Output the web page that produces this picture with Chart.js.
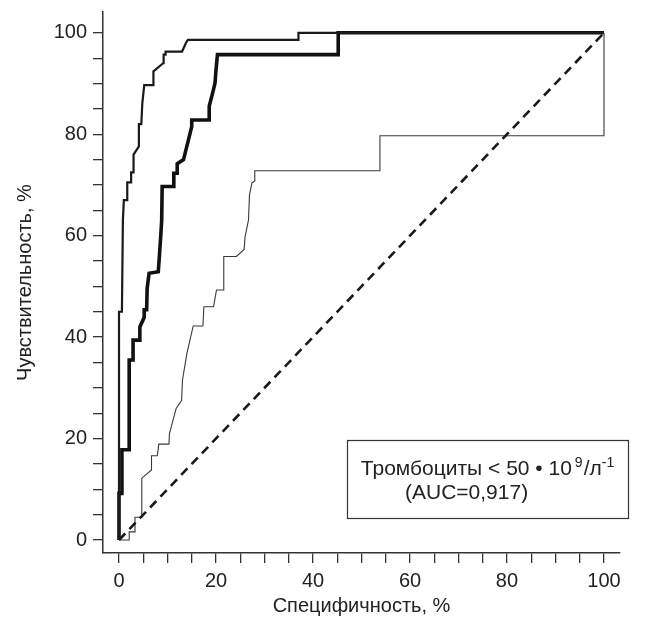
<!DOCTYPE html>
<html>
<head>
<meta charset="utf-8">
<script src="https://cdn.jsdelivr.net/npm/chart.js@4.4.1/dist/chart.umd.min.js"></script>
<style>
  html, body { margin: 0; padding: 0; background: #fff; }
</style>
</head>
<body>
<canvas id="rocChart" width="658" height="624"></canvas>
<script>
'use strict';

// ROC curves, [x, y] in %
const rocOuter = [[0,0],[0,45],[0.6,45],[0.8,63],[1.0,67],[1.7,67],[1.7,70.5],[2.5,70.5],[2.5,72.5],[3.0,72.5],
  [3.0,76],[4.1,77.6],[4.1,82],[4.6,82],[4.8,86],[5.2,89.7],[7.1,89.7],[7.1,92.4],[9.1,94],[9.2,95.7],
  [9.6,95.7],[9.6,96.3],[13.0,96.3],[13.8,98],[14.2,98.6],[37,98.6],[37,100],[100,100]];

const rocPlatelets = [[0,0],[0,9.2],[0.6,9.2],[0.6,17.8],[2.1,17.8],[2.1,35.5],[2.9,35.5],[2.9,39.4],[4.3,39.4],
  [4.3,42],[5.2,43.9],[5.2,45.4],[5.7,45.4],[5.8,49.6],[6.2,52.6],[8.1,52.9],[8.3,55.6],[8.6,59.8],[8.8,63],
  [8.9,69.7],[11.3,69.7],[11.3,72.3],[12.0,72.3],[12.0,74.2],[13.3,75],[15.0,81.5],[15.0,82.8],[18.6,82.8],
  [18.6,85.5],[19.4,88.5],[19.8,90.1],[20.0,92.7],[20.3,95.7],[45.2,95.7],[45.2,100],[100,100]];

const rocInner = [[0,0],[2.1,0],[2.1,1.6],[3.3,1.6],[3.3,4.5],[4.7,4.5],[4.7,12.2],[6.7,13.8],[6.7,16.6],[7.9,16.6],
  [8.2,18.9],[10.3,18.9],[10.4,21],[11.8,26],[12.9,27.5],[13.1,31.6],[14.0,36.8],[15.3,42.2],[17.3,42.2],
  [17.5,46],[19.5,46],[20.1,49.3],[21.6,49.3],[21.6,55.9],[24.2,55.9],[25.8,57.3],[26.0,59.8],[26.7,63.1],
  [26.9,68],[27.4,70.4],[28.0,70.8],[28.0,72.8],[53.8,72.8],[53.8,79.7],[100,79.7],[100,100]];

const chanceLine = [[0,0],[100,100]];

const tickValues = [0,5,10,15,20,25,30,35,40,45,50,55,60,65,70,75,80,85,90,95,100];
const labelledTicks = [0,20,40,60,80,100];

const xTitle = 'Специфичность, %';
const yTitle = 'Чувствительность, %';
// normal / superscript parts alternate
const boxLine1 = ['Тромбоциты < 50 \u2022 10', '9', '/л', '-1'];
const boxLine2 = '(AUC=0,917)';

const FONT = "'Liberation Sans', Arial, Helvetica, sans-serif";
const INK = '#222';

function toPoints(arr) {
    return arr.map(p => ({x: p[0], y: p[1]}));
}

const legendBox = {
    id: 'legendBox',
    afterDatasetsDraw(chart) {
        const ctx = chart.ctx;
        const bx = 347.5, by = 440.5, bw = 281, bh = 78;
        ctx.save();
        ctx.strokeStyle = '#333';
        ctx.lineWidth = 1.2;
        ctx.strokeRect(bx, by, bw, bh);

        ctx.fillStyle = INK;
        ctx.textBaseline = 'alphabetic';
        ctx.textAlign = 'left';
        const big = '21px ' + FONT;
        const small = '14px ' + FONT;

        let total = 0;
        boxLine1.forEach((part, i) => {
            ctx.font = i % 2 ? small : big;
            total += ctx.measureText(part).width + (i % 2 ? 1 : 0) + (i === 1 ? 3 : 0);
        });
        let x = bx + (bw - total) / 2;
        const base = 475;
        boxLine1.forEach((part, i) => {
            const sup = i % 2 === 1;
            if (i === 1) x += 3;
            ctx.font = sup ? small : big;
            ctx.fillText(part, x, sup ? base - 8 : base);
            x += ctx.measureText(part).width + (sup ? 1 : 0);
        });
        ctx.font = big;
        ctx.fillText(boxLine2, 405, 499);
        ctx.restore();
    }
};

const axisCommon = {
    type: 'linear',
    afterBuildTicks: scale => {
        scale.ticks = tickValues.map(v => ({value: v}));
    },
    ticks: {
        autoSkip: false,
        maxRotation: 0,
        color: INK,
        font: {family: FONT, size: 20},
        padding: 6,
        callback: v => labelledTicks.includes(v) ? String(v) : ''
    },
    grid: {
        drawOnChartArea: false,
        drawTicks: true,
        tickLength: 10,
        color: '#333',
        lineWidth: 1.3
    },
    border: {display: true, color: '#333', width: 1.5}
};

new Chart(document.querySelector('#rocChart'), {
    type: 'scatter',
    data: {
        datasets: [
            {
                data: toPoints(chanceLine),
                showLine: true,
                borderColor: '#1a1a1a',
                borderWidth: 2.6,
                borderDash: [9, 6],
                pointRadius: 0
            },
            {
                data: toPoints(rocInner),
                showLine: true,
                borderColor: '#3a3a3a',
                borderWidth: 1.1,
                pointRadius: 0
            },
            {
                data: toPoints(rocOuter),
                showLine: true,
                borderColor: '#1a1a1a',
                borderWidth: 2.2,
                pointRadius: 0
            },
            {
                data: toPoints(rocPlatelets),
                showLine: true,
                borderColor: '#111',
                borderWidth: 3.6,
                pointRadius: 0
            }
        ]
    },
    options: {
        responsive: false,
        animation: false,
        layout: {padding: {top: 12, right: 38, left: 0, bottom: 0}},
        plugins: {
            legend: {display: false},
            tooltip: {enabled: false}
        },
        scales: {
            x: Object.assign({}, axisCommon, {
                min: -3.3,
                max: 103.3,
                afterFit: scale => {
                    scale.height = 71;
                    scale.paddingLeft = 0;
                    scale.paddingRight = 0;
                },
                title: {
                    display: true,
                    text: xTitle,
                    color: INK,
                    font: {family: FONT, size: 20},
                    padding: {top: 0, bottom: 6}
                }
            }),
            y: Object.assign({}, axisCommon, {
                min: -2.56,
                max: 104.1,
                afterFit: scale => {
                    scale.width = 103;
                    scale.paddingTop = 0;
                    scale.paddingBottom = 0;
                },
                title: {
                    display: true,
                    text: yTitle,
                    color: INK,
                    font: {family: FONT, size: 20},
                    padding: {top: 13, bottom: 0}
                }
            })
        }
    },
    plugins: [legendBox]
});
</script>
</body>
</html>
